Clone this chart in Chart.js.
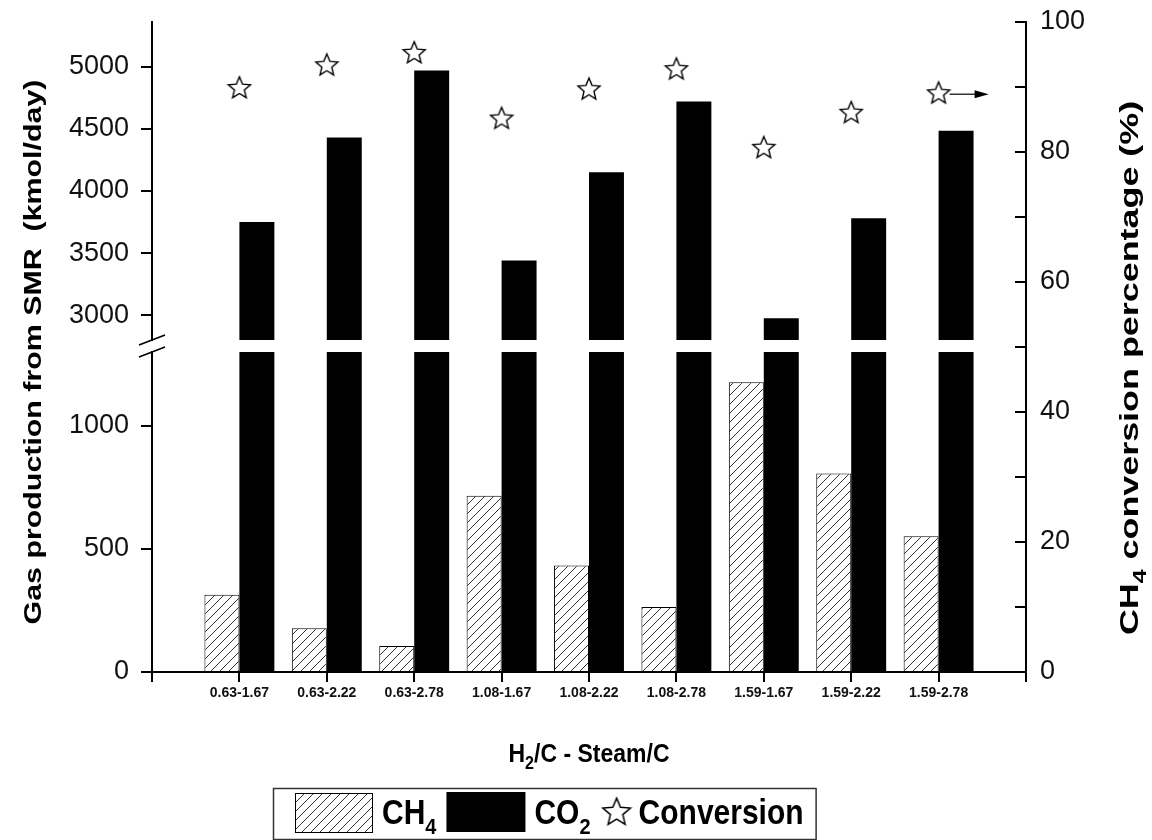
<!DOCTYPE html>
<html>
<head>
<meta charset="utf-8">
<script src="https://cdn.jsdelivr.net/npm/chart.js@4.4.1/dist/chart.umd.min.js"></script>
<style>
  html, body { margin: 0; padding: 0; background: #fff; }
  #wrap { width: 1152px; height: 840px; }
</style>
</head>
<body>
<div id="wrap"><canvas id="chart" width="1152" height="840"></canvas></div>
<script>
(function() {
  "use strict";

  // ── Data ──
  const categories = ['0.63-1.67', '0.63-2.22', '0.63-2.78', '1.08-1.67', '1.08-2.22', '1.08-2.78', '1.59-1.67', '1.59-2.22', '1.59-2.78'];
  const ch4Production = [314, 178, 106, 716, 433, 264, 1177, 806, 551];      // kmol/day
  const co2Production = [3750, 4430, 4970, 3440, 4150, 4720, 2975, 3780, 4485]; // kmol/day
  const ch4Conversion = [90.0, 93.5, 95.4, 85.3, 89.8, 92.9, 80.8, 86.2, 89.2]; // %

  // broken left axis (lower / upper part) and right axis
  const lowTicks = [0, 250, 500, 750, 1000, 1250];
  const highTicks = [3000, 3250, 3500, 3750, 4000, 4250, 4500, 4750, 5000, 5250];
  const rightTicks = [0, 10, 20, 30, 40, 50, 60, 70, 80, 90, 100];

  const FONT = '"Liberation Sans", Arial, sans-serif';

  // one empty slot at both ends of the category axis
  const labels = ['', ...categories, ''];
  const pad = arr => [null, ...arr, null];

  // ── Marks ──

  function hatchPattern() {
    const c = document.createElement('canvas');
    c.width = 9; c.height = 9;
    const g = c.getContext('2d');
    g.fillStyle = '#fff';
    g.fillRect(0, 0, 9, 9);
    g.strokeStyle = '#333';
    g.lineWidth = 1;
    g.beginPath();
    g.moveTo(-1, 10); g.lineTo(10, -1);
    g.moveTo(-1, 1); g.lineTo(1, -1);
    g.moveTo(8, 10); g.lineTo(10, 8);
    g.stroke();
    return g.createPattern(c, 'repeat');
  }

  function starImage(size, lw) {
    const c = document.createElement('canvas');
    c.width = size; c.height = size;
    const g = c.getContext('2d');
    const cx = size / 2, cy = size / 2 + size * 0.05;
    const R = size / 2 - lw, r = R * 0.45;
    g.beginPath();
    for (let i = 0; i < 10; i++) {
      const a = -Math.PI / 2 + i * Math.PI / 5;
      const rad = i % 2 ? r : R;
      g.lineTo(cx + rad * Math.cos(a), cy + rad * Math.sin(a));
    }
    g.closePath();
    g.fillStyle = '#fff';
    g.fill();
    g.lineJoin = 'miter';
    g.strokeStyle = '#000';
    g.lineWidth = lw;
    g.stroke();
    return c;
  }

  const starPoint = starImage(26, 1.4);
  const starLegend = starImage(32, 1.5);
  const hatch = hatchPattern();

  // ── Text helpers ──

  function richWidth(ctx, parts, size) {
    let w = 0;
    parts.forEach(p => {
      ctx.font = `bold ${p.sub ? Math.round(size * 0.68) : size}px ${FONT}`;
      w += ctx.measureText(p.t).width;
    });
    return w;
  }

  // draws at origin, vertically centred on the cap height
  function drawRich(ctx, parts, size, align) {
    const w = richWidth(ctx, parts, size);
    let x = align === 'center' ? -w / 2 : 0;
    ctx.textBaseline = 'alphabetic';
    ctx.textAlign = 'left';
    parts.forEach(p => {
      ctx.font = `bold ${p.sub ? Math.round(size * 0.68) : size}px ${FONT}`;
      ctx.fillText(p.t, x, size * 0.36 + (p.sub ? size * 0.28 : 0));
      x += ctx.measureText(p.t).width;
    });
    return w;
  }

  // the original figure is stretched vertically, so the text is too
  function verticalTitle(ctx, parts, cx, cy, size, stretch) {
    ctx.save();
    ctx.translate(cx, cy);
    ctx.rotate(-Math.PI / 2);
    ctx.scale(stretch, 1);
    drawRich(ctx, parts, size, 'center');
    ctx.restore();
  }

  function stretchedText(ctx, parts, x, cy, size, stretch, align) {
    ctx.save();
    ctx.translate(x, cy);
    ctx.scale(1, stretch);
    const w = drawRich(ctx, parts, size, align);
    ctx.restore();
    return w;
  }

  // ── Decoration plugin: titles, axis break, inward ticks, arrow, legend ──

  const decorations = {
    id: 'decorations',
    afterDraw(chart) {
      const ctx = chart.ctx;
      const { yLow, yHigh, yRight, x } = chart.scales;
      ctx.save();
      ctx.fillStyle = '#000';
      ctx.strokeStyle = '#000';

      // axis titles
      verticalTitle(ctx, [{ t: 'Gas production from SMR  (kmol/day)' }], 33, 352, 23, 1.32);
      verticalTitle(ctx, [{ t: 'CH' }, { t: '4', sub: true }, { t: ' conversion percentage (%)' }], 1129, 368, 26, 1.38);
      stretchedText(ctx, [{ t: 'H' }, { t: '2', sub: true }, { t: '/C - Steam/C' }], (x.left + x.right) / 2, 752, 23, 1.15, 'center');

      // break marks on the left axis
      const ax = yLow.left + yLow.width;
      ctx.lineWidth = 1.6;
      [yHigh.bottom, yLow.top].forEach(y => {
        ctx.beginPath();
        ctx.moveTo(ax - 13, y + 5);
        ctx.lineTo(ax + 13, y - 5);
        ctx.stroke();
      });

      // right axis ticks point inwards
      ctx.lineWidth = 2;
      yRight.ticks.forEach(t => {
        const py = Math.round(yRight.getPixelForValue(t.value));
        ctx.beginPath();
        ctx.moveTo(yRight.left, py);
        ctx.lineTo(yRight.left - 11, py);
        ctx.stroke();
      });

      // arrow from the last conversion point towards the right axis
      const meta = chart.getDatasetMeta(0);
      const last = meta.data[categories.length];
      if (last) {
        const y = last.y + 2;
        ctx.lineWidth = 1.2;
        ctx.beginPath();
        ctx.moveTo(last.x + 11, y);
        ctx.lineTo(last.x + 40, y);
        ctx.stroke();
        ctx.beginPath();
        ctx.moveTo(last.x + 50, y);
        ctx.lineTo(last.x + 36, y - 4);
        ctx.lineTo(last.x + 36, y + 4);
        ctx.closePath();
        ctx.fill();
      }

      // legend
      const top = 788, bottom = 839, cy = 812, fs = 30, st = 1.14;
      let lx = 295;
      ctx.lineWidth = 1;
      ctx.fillStyle = hatch;
      ctx.fillRect(lx, 793, 77, 39);
      ctx.strokeRect(lx + 0.5, 793.5, 77, 39);
      lx += 77 + 10;
      ctx.fillStyle = '#000';
      lx += stretchedText(ctx, [{ t: 'CH' }, { t: '4', sub: true }], lx, cy, fs, st, 'left');
      lx += 10;
      ctx.fillRect(lx, 792, 79, 40);
      lx += 79 + 9;
      lx += stretchedText(ctx, [{ t: 'CO' }, { t: '2', sub: true }], lx, cy, fs, st, 'left');
      lx += 10;
      ctx.drawImage(starLegend, lx, cy - 17);
      lx += 32 + 6;
      lx += stretchedText(ctx, [{ t: 'Conversion' }], lx, cy, fs, st, 'left');
      ctx.lineWidth = 1.5;
      ctx.strokeStyle = '#333';
      ctx.strokeRect(273.5, top + 0.5, lx + 12 - 273, bottom - top);

      ctx.restore();
    }
  };

  // ── Scales ──

  const tickFont = { family: FONT, size: 27 };
  const setTicks = values => scale => { scale.ticks = values.map(v => ({ value: v })); };
  // tick labels may not push the plot area around
  const noOverflow = width => s => { s.width = width; s.paddingTop = 0; s.paddingBottom = 0; };

  const leftAxis = (min, max, weight, values) => ({
    type: 'linear',
    position: 'left',
    stack: 'left',
    stackWeight: weight,
    min, max,
    afterBuildTicks: setTicks(values),
    afterFit: noOverflow(90),
    border: { color: '#000', width: 2 },
    grid: { drawOnChartArea: false, color: '#000', lineWidth: 2, tickLength: 11 },
    ticks: {
      color: '#111', font: tickFont, padding: 12,
      callback: v => (v % 500 === 0 ? String(v) : '')
    }
  });

  const ctx = document.getElementById('chart');
  new Chart(ctx, {
    type: 'bar',
    data: {
      labels,
      datasets: [
        {
          type: 'line', label: 'Conversion', data: pad(ch4Conversion), yAxisID: 'yRight',
          showLine: false, pointStyle: starPoint, pointRadius: 12
        },
        {
          label: 'CH4', data: pad(ch4Production), yAxisID: 'yLow', stack: 'ch4',
          backgroundColor: hatch, borderColor: '#000', borderWidth: 1
        },
        {
          label: 'CO2', data: pad(co2Production), yAxisID: 'yLow', stack: 'co2',
          backgroundColor: '#000', borderWidth: 0
        },
        {
          label: 'CO2 (upper)', data: pad(co2Production), yAxisID: 'yHigh', stack: 'co2',
          backgroundColor: '#000', borderWidth: 0
        }
      ]
    },
    options: {
      responsive: false,
      animation: false,
      events: [],
      layout: { padding: { left: 62, right: 66, top: 22, bottom: 128 } },
      datasets: { bar: { categoryPercentage: 0.8, barPercentage: 1.0 } },
      plugins: { legend: { display: false }, tooltip: { enabled: false }, title: { display: false } },
      scales: {
        x: {
          type: 'category',
          offset: false,
          afterFit: s => { s.height = 40; s.paddingLeft = 0; s.paddingRight = 0; },
          border: { color: '#000', width: 2 },
          grid: { drawOnChartArea: false, offset: false, color: '#000', lineWidth: 2, tickLength: 10 },
          ticks: {
            color: '#111', font: { family: FONT, size: 14, weight: 'bold' },
            maxRotation: 0, autoSkip: false, padding: 3
          }
        },
        yLow: leftAxis(0, 1300, 320, lowTicks),
        yGap: {
          type: 'linear', position: 'left', stack: 'left', stackWeight: 12,
          afterFit: noOverflow(0),
          border: { display: false },
          grid: { display: false, drawTicks: false },
          ticks: { display: false }
        },
        yHigh: leftAxis(2800, 5360, 318, highTicks),
        yRight: {
          type: 'linear',
          position: 'right',
          min: 0, max: 100,
          afterBuildTicks: setTicks(rightTicks),
          afterFit: noOverflow(60),
          border: { color: '#000', width: 2 },
          grid: { drawOnChartArea: false, drawTicks: false },
          ticks: {
            color: '#111', font: tickFont, padding: 14,
            callback: v => (v % 20 === 0 ? String(v) : '')
          }
        }
      }
    },
    plugins: [decorations]
  });
})();
</script>
</body>
</html>
